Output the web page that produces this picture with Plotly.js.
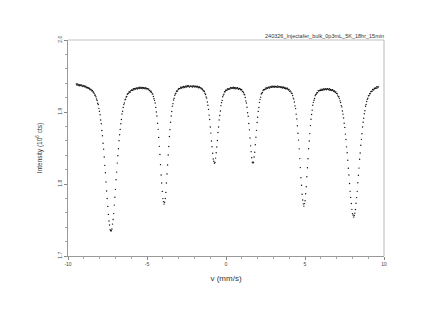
<!DOCTYPE html>
<html>
<head>
<meta charset="utf-8">
<script src="https://cdn.plot.ly/plotly-3.0.1.min.js"></script>
<style>
html,body{margin:0;padding:0;background:#ffffff;}
#chart{width:432px;height:310px;}
</style>
</head>
<body>
<div id="chart"></div>
<script>
// Channel velocity axis (mm/s): first channel and channel step
const velocityStart = -9.47;
const velocityStep = 0.0375;

const intensity = [
1.9388,1.9376,1.9388,1.9370,1.9378,1.9364,1.9378,1.9372,1.9363,1.9375,
1.9362,1.9353,1.9364,1.9364,1.9352,1.9346,1.9358,1.9337,1.9344,1.9338,
1.9328,1.9337,1.9323,1.9308,1.9318,1.9309,1.9293,1.9300,1.9278,1.9277,
1.9257,1.9235,1.9234,1.9211,1.9181,1.9160,1.9121,1.9104,1.9051,1.9011,
1.8961,1.8889,1.8836,1.8744,1.8671,1.8567,1.8484,1.8375,1.8258,1.8156,
1.8027,1.7902,1.7798,1.7689,1.7578,1.7487,1.7430,1.7364,1.7351,1.7350,
1.7374,1.7443,1.7506,1.7589,1.7707,1.7817,1.7926,1.8060,1.8165,1.8290,
1.8393,1.8489,1.8602,1.8685,1.8758,1.8837,1.8895,1.8972,1.9010,1.9062,
1.9103,1.9126,1.9169,1.9178,1.9208,1.9215,1.9246,1.9255,1.9260,1.9281,
1.9276,1.9277,1.9297,1.9306,1.9302,1.9303,1.9322,1.9308,1.9322,1.9322,
1.9319,1.9335,1.9328,1.9319,1.9336,1.9335,1.9327,1.9344,1.9331,1.9341,
1.9333,1.9326,1.9342,1.9337,1.9328,1.9333,1.9322,1.9339,1.9323,1.9327,
1.9325,1.9311,1.9320,1.9298,1.9301,1.9282,1.9288,1.9273,1.9252,1.9249,
1.9215,1.9183,1.9162,1.9124,1.9064,1.9001,1.8945,1.8843,1.8759,1.8647,
1.8523,1.8410,1.8269,1.8125,1.8014,1.7897,1.7797,1.7755,1.7721,1.7747,
1.7799,1.7883,1.8014,1.8138,1.8264,1.8403,1.8521,1.8659,1.8755,1.8858,
1.8945,1.9007,1.9081,1.9116,1.9167,1.9190,1.9231,1.9250,1.9261,1.9289,
1.9291,1.9294,1.9316,1.9326,1.9324,1.9325,1.9344,1.9330,1.9345,1.9345,
1.9337,1.9354,1.9348,1.9340,1.9357,1.9356,1.9348,1.9366,1.9354,1.9365,
1.9353,1.9346,1.9363,1.9360,1.9353,1.9358,1.9348,1.9367,1.9353,1.9359,
1.9347,1.9358,1.9354,1.9347,1.9359,1.9348,1.9336,1.9350,1.9344,1.9332,
1.9339,1.9321,1.9326,1.9311,1.9296,1.9301,1.9284,1.9260,1.9244,1.9208,
1.9193,1.9138,1.9094,1.9036,1.8957,1.8895,1.8792,1.8707,1.8598,1.8518,
1.8427,1.8348,1.8317,1.8288,1.8300,1.8360,1.8435,1.8513,1.8604,1.8716,
1.8792,1.8890,1.8952,1.9014,1.9088,1.9130,1.9161,1.9211,1.9235,1.9248,
1.9281,1.9281,1.9302,1.9302,1.9300,1.9320,1.9320,1.9316,1.9325,1.9318,
1.9339,1.9326,1.9335,1.9338,1.9329,1.9343,1.9327,1.9336,1.9323,1.9337,
1.9332,1.9324,1.9337,1.9324,1.9316,1.9326,1.9325,1.9312,1.9304,1.9312,
1.9287,1.9287,1.9270,1.9248,1.9239,1.9201,1.9154,1.9125,1.9066,1.8990,
1.8942,1.8840,1.8752,1.8640,1.8530,1.8449,1.8365,1.8303,1.8290,1.8302,
1.8375,1.8442,1.8546,1.8651,1.8745,1.8855,1.8928,1.9008,1.9063,1.9134,
1.9176,1.9206,1.9249,1.9260,1.9272,1.9297,1.9310,1.9309,1.9312,1.9332,
1.9319,1.9334,1.9334,1.9330,1.9346,1.9342,1.9334,1.9352,1.9350,1.9342,
1.9359,1.9347,1.9358,1.9350,1.9343,1.9359,1.9355,1.9347,1.9353,1.9343,
1.9361,1.9346,1.9352,1.9353,1.9341,1.9353,1.9340,1.9348,1.9334,1.9347,
1.9340,1.9330,1.9341,1.9326,1.9321,1.9331,1.9330,1.9315,1.9306,1.9313,
1.9287,1.9294,1.9280,1.9261,1.9258,1.9229,1.9193,1.9179,1.9138,1.9085,
1.9047,1.8970,1.8904,1.8809,1.8704,1.8610,1.8488,1.8353,1.8228,1.8088,
1.7983,1.7858,1.7778,1.7724,1.7693,1.7728,1.7768,1.7864,1.7961,1.8100,
1.8226,1.8350,1.8490,1.8597,1.8700,1.8811,1.8900,1.8966,1.9026,1.9094,
1.9134,1.9164,1.9187,1.9227,1.9242,1.9249,1.9268,1.9269,1.9297,1.9290,
1.9297,1.9304,1.9299,1.9315,1.9301,1.9313,1.9303,1.9319,1.9316,1.9310,
1.9325,1.9315,1.9309,1.9322,1.9324,1.9314,1.9309,1.9323,1.9303,1.9312,
1.9307,1.9298,1.9309,1.9302,1.9287,1.9297,1.9288,1.9272,1.9280,1.9258,
1.9257,1.9235,1.9213,1.9211,1.9186,1.9155,1.9132,1.9089,1.9071,1.9013,
1.8970,1.8916,1.8843,1.8786,1.8693,1.8618,1.8516,1.8434,1.8330,1.8218,
1.8125,1.8007,1.7898,1.7814,1.7730,1.7648,1.7589,1.7570,1.7540,1.7563,
1.7595,1.7645,1.7733,1.7811,1.7898,1.8018,1.8122,1.8221,1.8343,1.8431,
1.8538,1.8620,1.8697,1.8791,1.8858,1.8913,1.8976,1.9017,1.9080,1.9104,
1.9145,1.9177,1.9191,1.9225,1.9228,1.9253,1.9255,1.9281,1.9287,1.9289,
1.9312,1.9308,1.9308,1.9327,1.9335,1.9330,1.9331,1.9350,1.9335,1.9349,
1.9349
];

const xTickValues = [-10, -5, 0, 5, 10];
const xTickLabels = ['-10', '-5', '0', '5', '10'];
const yTickValues = [1.7, 1.8, 1.9, 2.0];
const yTickLabels = ['1.7', '1.8', '1.9', '2.0'];
const chartTitle = '240326_Injectafer_bulk_0p3mL_5K_18hr_15min';
const xTitle = 'v (mm/s)';
const yTitle = 'Intensity (10<sup>6</sup> cts)';

const FONT = 'Liberation Sans, Arial, Helvetica, sans-serif';

const trace = {
  type: 'scatter',
  mode: 'markers',
  x0: velocityStart,
  dx: velocityStep,
  y: intensity,
  marker: {size: 1.4, color: '#111', line: {width: 0}},
  hoverinfo: 'skip'
};

const layout = {
  width: 432,
  height: 310,
  margin: {l: 68, r: 48, t: 40, b: 54, pad: 0},
  paper_bgcolor: '#ffffff',
  plot_bgcolor: '#ffffff',
  showlegend: false,
  font: {family: FONT, size: 5, color: '#444'},
  title: {
    text: chartTitle,
    font: {family: FONT, size: 5.5, color: '#333'},
    xref: 'paper', x: 1, xanchor: 'right',
    yref: 'paper', y: 1, yanchor: 'bottom',
    pad: {b: 2}
  },
  xaxis: {
    range: [-10, 10],
    tickmode: 'array',
    tickvals: xTickValues,
    ticktext: xTickLabels,
    ticks: 'outside',
    ticklen: 3,
    tickwidth: 1,
    tickcolor: '#888',
    minor: {dtick: 1, ticks: 'outside', ticklen: 2, tickcolor: '#aaa'},
    showgrid: false,
    zeroline: false,
    showline: true,
    linecolor: '#999',
    linewidth: 1,
    tickfont: {family: FONT, size: 5, color: '#444'},
    title: {text: xTitle, font: {family: FONT, size: 8, color: '#333'}, standoff: 9}
  },
  yaxis: {
    range: [1.7, 2.0],
    tickmode: 'array',
    tickvals: yTickValues,
    ticktext: yTickLabels,
    tickangle: -90,
    ticks: 'outside',
    ticklen: 3,
    tickwidth: 1,
    tickcolor: '#888',
    minor: {dtick: 0.02, ticks: 'outside', ticklen: 2, tickcolor: '#aaa'},
    showgrid: false,
    zeroline: false,
    showline: true,
    linecolor: '#999',
    linewidth: 1,
    tickfont: {family: FONT, size: 5, color: '#444'},
    title: {text: yTitle, font: {family: FONT, size: 6.5, color: '#333'}, standoff: 13}
  },
  shapes: [
    {type: 'line', xref: 'paper', yref: 'paper', x0: 0, x1: 1, y0: 1, y1: 1,
     line: {color: '#d4d4d4', width: 1.5}},
    {type: 'line', xref: 'paper', yref: 'paper', x0: 1, x1: 1, y0: 0, y1: 1,
     line: {color: '#b8b8b8', width: 1}}
  ]
};

Plotly.newPlot('chart', [trace], layout, {staticPlot: true, displayModeBar: false});
</script>
</body>
</html>
